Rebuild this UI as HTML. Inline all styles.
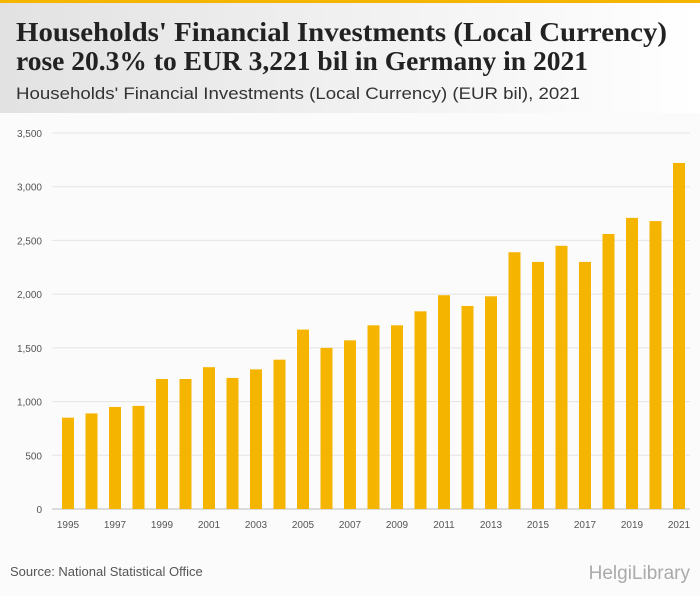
<!DOCTYPE html>
<html><head><meta charset="utf-8"><style>
body{margin:0;width:700px;height:596px;overflow:hidden;background:#fff}
svg{display:block}
</style></head><body>
<svg width="700" height="596" xmlns="http://www.w3.org/2000/svg">
<defs><linearGradient id="hg" x1="0" x2="1"><stop offset="0" stop-color="#e2e2e2"/><stop offset="1" stop-color="#ffffff"/></linearGradient></defs>
<rect x="0" y="0" width="700" height="113" fill="url(#hg)"/>
<rect x="0" y="0" width="700" height="3" fill="#f5b400"/>
<rect x="0" y="113" width="700" height="483" fill="#fbfbfb"/>
<text x="16" y="41" font-family="Liberation Serif, serif" font-weight="bold" font-size="27" fill="#222" textLength="651" lengthAdjust="spacingAndGlyphs">Households' Financial Investments (Local Currency)</text>
<text x="16" y="70" font-family="Liberation Serif, serif" font-weight="bold" font-size="27" fill="#222" textLength="572" lengthAdjust="spacingAndGlyphs">rose 20.3% to EUR 3,221 bil in Germany in 2021</text>
<text x="16" y="99" font-family="Liberation Sans, sans-serif" font-size="17" fill="#333" textLength="564" lengthAdjust="spacingAndGlyphs">Households' Financial Investments (Local Currency) (EUR bil), 2021</text>
<g id="grid"></g>
<g id="bars"></g>
<g id="xlabels"></g>
<text x="10" y="576" font-family="Liberation Sans, sans-serif" font-size="13" fill="#555">Source: National Statistical Office</text>
<text x="690" y="579" text-anchor="end" font-family="Liberation Sans, sans-serif" font-size="19" fill="#aaa">HelgiLibrary</text>
</svg>
<script>
const years=[1995,1996,1997,1998,1999,2000,2001,2002,2003,2004,2005,2006,2007,2008,2009,2010,2011,2012,2013,2014,2015,2016,2017,2018,2019,2020,2021];
const values=[850,890,950,960,1210,1210,1320,1220,1300,1390,1670,1500,1570,1710,1710,1840,1990,1890,1980,2390,2300,2450,2300,2560,2710,2680,3221];
const yTicks=[0,500,1000,1500,2000,2500,3000,3500];
const NS="http://www.w3.org/2000/svg";
const y0=509,y1=133,vmax=3500;
const yS=v=>y0-(v/vmax)*(y0-y1);
const xS=i=>68+i*(679-68)/(years.length-1);
const g=document.getElementById('grid'),b=document.getElementById('bars'),xl=document.getElementById('xlabels');
yTicks.forEach(t=>{
 const l=document.createElementNS(NS,'line');
 l.setAttribute('x1',52);l.setAttribute('x2',690);l.setAttribute('y1',yS(t));l.setAttribute('y2',yS(t));
 l.setAttribute('stroke',t===0?'#bbb':'#e4e4e4');l.setAttribute('stroke-width',1);
 
 
 g.appendChild(l);
 const tx=document.createElementNS(NS,'text');
 tx.setAttribute('x',42);tx.setAttribute('y',yS(t)+4);tx.setAttribute('text-anchor','end');
 tx.setAttribute('font-family','Liberation Sans, sans-serif');tx.setAttribute('font-size','10');tx.setAttribute('fill','#555');
 tx.textContent=t.toLocaleString('en-US');
 
 
 g.appendChild(tx);
});
years.forEach((yr,i)=>{
 const r=document.createElementNS(NS,'rect');
 r.setAttribute('x',xS(i)-6);r.setAttribute('width',12);
 r.setAttribute('y',yS(values[i]));r.setAttribute('height',y0-yS(values[i]));
 r.setAttribute('fill','#f5b400');
 
 
 b.appendChild(r);
 if(i%2===0){
  const tx=document.createElementNS(NS,'text');
  tx.setAttribute('x',xS(i));tx.setAttribute('y',528);tx.setAttribute('text-anchor','middle');
  tx.setAttribute('font-family','Liberation Sans, sans-serif');tx.setAttribute('font-size','10');tx.setAttribute('fill','#555');
  tx.textContent=yr;
  
  
  xl.appendChild(tx);
 }
});
</script>
</body></html>
